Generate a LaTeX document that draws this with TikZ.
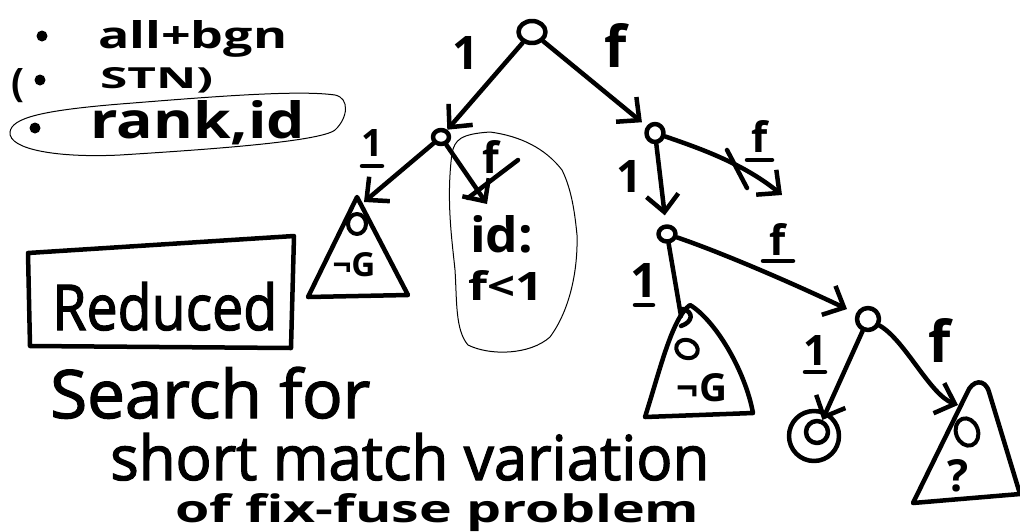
\documentclass[tikz,border=0pt]{standalone}
\usepackage{fontspec}
\setmainfont{Open Sans}
\newfontfamily\semi[FakeBold=2]{Open Sans}
\usetikzlibrary{arrows.meta,shapes.geometric}
\newcommand\fitbox[3]{\resizebox{#1pt}{#2pt}{#3}}
\newcommand\hbx[2]{\resizebox{!}{#1pt}{\bfseries #2}}
\begin{document}
\begin{tikzpicture}[x=1pt,y=-1pt,
  ink/.style={line width=4.5pt,line cap=round,line join=round},
  thinline/.style={line width=1pt},
  arr/.style={ink,-{Straight Barb[length=17pt,width=32pt]}},
  statenode/.style={ink,ellipse,draw,inner sep=0pt},
  txt/.style={inner sep=0pt,anchor=base west},
  lbl/.style={inner sep=0pt}]
\useasboundingbox (0,0) rectangle (1020,531);
\fill[white] (0,0) rectangle (1020,531);

% ---- notes at top left
\fill (42,36) circle (5.5);
\node[txt] (allbgn) at (98,48) {\fitbox{189}{28}{\bfseries all+bgn}};
\node[txt] (paren) at (11,96) {\fitbox{13}{28}{\bfseries (}};
\fill (40,80) circle (5.5);
\node[txt] (stn) at (100,88) {\fitbox{113}{21}{\bfseries STN)}};
\fill (35,128) circle (5.5);
\node[txt] (rank) at (90,138) {\fitbox{215}{38}{\bfseries rank,id}};
\draw[thinline] (10,132) .. controls (12,118) and (40,110) .. (133,103)
  .. controls (220,96) and (300,90) .. (335,95)
  .. controls (350,98) and (348,118) .. (335,130)
  .. controls (320,142) and (200,150) .. (120,155)
  .. controls (60,158) and (8,150) .. (10,132) -- cycle;

% ---- Reduced box and bottom text
\draw[ink] (28,253) -- (294,236) -- (291,348) -- (30,346) -- cycle;
\node[txt] (reduced) at (52,330) {\fitbox{225}{48}{\semi Reduced}};
\node[txt] (search) at (50,418) {\fitbox{320}{51}{\semi Search for}};
\node[txt] (shortm) at (110,480) {\fitbox{599}{47}{\semi short match variation}};
\node[txt] (offix) at (175,522) {\fitbox{524}{29}{\bfseries of fix-fuse problem}};

% ---- tree nodes
\node[statenode,minimum width=27pt,minimum height=22pt] (root) at (532,32) {};
\node[statenode,minimum width=16pt,minimum height=14pt] (L1) at (441,137) {};
\node[statenode,minimum width=17pt,minimum height=18pt] (R1) at (655,133) {};
\node[statenode,minimum width=17pt,minimum height=15pt] (R2) at (667,234) {};
\node[statenode,minimum width=22pt,minimum height=22pt] (R3) at (868,319) {};
\node[ink,circle,draw,minimum size=50pt] (co) at (814,436) {};
\node[ink,circle,draw,minimum size=22pt,inner sep=0pt] (ci) at (817,432) {};

\coordinate (a1t) at (364,202);
\coordinate (x1) at (487,204);
\coordinate (c1a) at (518,160);
\coordinate (c1b) at (468,198);
\coordinate (x2) at (782,195);
\coordinate (c2a) at (727,150);
\coordinate (c2b) at (747,188);
\coordinate (a2t) at (681,316);
\coordinate (a3t) at (958,405);

% ---- triangles (subtrees)
\draw[ink] (357,197) -- (308,297) -- (408,295) -- cycle;
\draw[ink] (645,417) .. controls (660,370) and (672,318) .. (690,305)
  .. controls (715,320) and (745,370) .. (753,413) -- cycle;
\draw[ink] (913,503) -- (967,393) .. controls (972,380) and (985,378) .. (989,392)
  -- (1020,494) -- cycle;

% triangle contents
\draw[ink,line width=4pt] (357,224) ellipse [x radius=9,y radius=10];
\node[lbl] (g1) at (354,265) {\hbx{24}{¬G}};
\draw[ink,line width=4pt,rotate around={-20:(687,349)}] (687,349) ellipse [x radius=11,y radius=9];
\node[lbl] (g2) at (702,388) {\hbx{28}{¬G}};
\draw[ink,line width=4pt,rotate around={20:(967,432)}] (967,432) ellipse [x radius=11,y radius=14];
\node[lbl] (q3) at (958,476) {\hbx{32}{?}};

% ---- blob around id: f<1
\draw[thinline] (452,153) .. controls (455,140) and (460,134) .. (490,132)
  .. controls (520,136) and (545,148) .. (562,170)
  .. controls (572,190) and (575,215) .. (577,235)
  .. controls (578,270) and (570,310) .. (550,337)
  .. controls (530,355) and (490,356) .. (468,345)
  .. controls (455,330) and (457,300) .. (455,270)
  .. controls (452,240) and (446,200) .. (452,153) -- cycle;
\node[txt] (idc) at (470,252) {\fitbox{63}{37}{\bfseries id:}};
\node[txt] (fl1) at (468,300) {\fitbox{75}{30}{\bfseries f<1}};

% ---- connectors
\draw[arr] (root) -- (L1);
\draw[arr,shorten >=6pt] (root) -- (R1);
\draw[arr] (L1) -- (a1t);
\draw[arr] (L1) -- (x1);
\draw[ink] (c1a) -- (c1b);
\draw[arr,shorten >=9pt] (R1) -- (R2);
\draw[arr] (R1) .. controls (705,150) and (745,165) .. (x2);
\draw[ink] (c2a) -- (c2b);
\draw[ink] (R2) -- (a2t);
\draw[ink] (683,309) .. controls (694,312) and (693,322) .. (681,326);
\draw[arr,shorten >=10pt] (R2) .. controls (720,252) and (790,282) .. (R3);
\draw[arr] (R3) -- (ci);
\draw[arr] (R3) .. controls (905,340) and (930,395) .. (a3t);

% ---- edge labels
\node[lbl] (l1) at (466,53) {\hbx{33}{1}};
\node[lbl] (l2) at (616,45) {\hbx{44}{f}};
\node[lbl] (l3) at (372,143) {\hbx{27}{1}};
\draw[ink] (362,166) -- (382,166);
\node[lbl] (l4) at (491,157) {\hbx{33}{f}};
\node[lbl] (l5) at (629,176) {\hbx{32}{1}};
\node[lbl] (l6) at (760,136) {\hbx{32}{f}};
\draw[ink] (747,160) -- (772,160);
\node[lbl] (l7) at (644,280) {\hbx{34}{1}};
\draw[ink] (635,305) -- (653,305);
\node[lbl] (l8) at (778,239) {\hbx{32}{f}};
\draw[ink] (763,261) -- (793,261);
\node[lbl] (l9) at (815,350) {\hbx{30}{1}};
\draw[ink] (805,372) -- (825,372);
\node[lbl] (l10) at (940,340) {\hbx{44}{f}};
\end{tikzpicture}
\end{document}
